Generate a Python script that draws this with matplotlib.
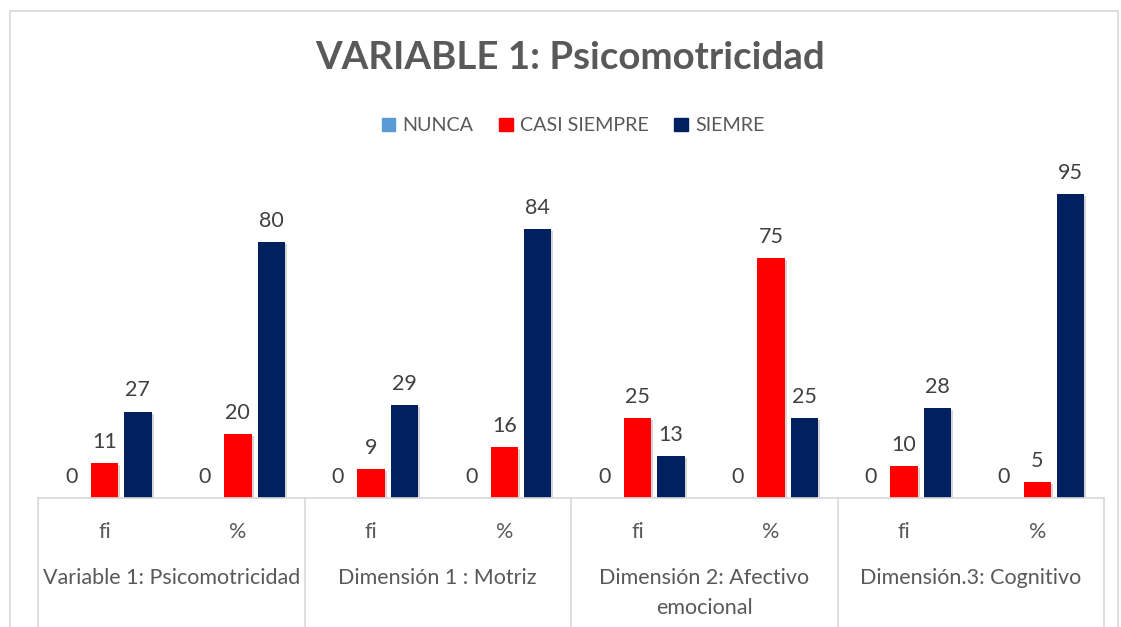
import matplotlib
matplotlib.use("Agg")
import matplotlib.pyplot as plt
import matplotlib.patheffects as pe
from matplotlib.patches import Rectangle
from matplotlib.lines import Line2D
import numpy as np

plt.rcParams['font.family'] = ['Lato', 'DejaVu Sans']

title = "VARIABLE 1: Psicomotricidad"
sub_labels = ["fi", "%", "fi", "%", "fi", "%", "fi", "%"]
groups = ["Variable 1: Psicomotricidad", "Dimensión 1 : Motriz",
          "Dimensión 2: Afectivo\nemocional", "Dimensión.3: Cognitivo"]
series_names = ["NUNCA", "CASI SIEMPRE", "SIEMRE"]
nunca = [0, 0, 0, 0, 0, 0, 0, 0]
casi_siempre = [11, 20, 9, 16, 25, 75, 10, 5]
siempre = [27, 80, 29, 84, 13, 25, 28, 95]
colors = ["#5B9BD5", "#FF0000", "#002060"]

W, H = 1121, 627
fig = plt.figure(figsize=(W / 100, H / 100), dpi=100)
fig.patch.set_facecolor("white")

def fx(px):
    return px / W

def fy(py):
    return 1 - py / H

# outer chart border
fig.patches.append(Rectangle((fx(10), fy(640)), fx(1118) - fx(10), fy(11) - fy(640),
                             transform=fig.transFigure, fill=False,
                             edgecolor="#D9D9D9", linewidth=1.2))

left, right, base, top = 38, 1104, 498, 178
ax = fig.add_axes([fx(left), fy(base), fx(right) - fx(left), fy(top) - fy(base)])
ax.set_xlim(-0.5, 7.5)
ax.set_ylim(0, 100)
ax.axis("off")

x = np.arange(len(sub_labels))
offs = [-0.25, 0.0, 0.25]
bw = 0.205
shadow = [pe.SimplePatchShadow(offset=(1.5, -1.5), shadow_rgbFace="#888888", alpha=0.35), pe.Normal()]
for vals, off, col, name in zip([nunca, casi_siempre, siempre], offs, colors, series_names):
    bars = ax.bar(x + off, vals, width=bw, color=col, label=name, zorder=3)
    for b in bars:
        b.set_path_effects(shadow)
    for xi, v in zip(x, vals):
        ax.annotate(str(v), (xi + off, v), xytext=(0, 8), textcoords="offset points",
                    ha="center", va="bottom", fontsize=15.5, color="#404040")

# table lines
lc = "#D9D9D9"
fig.add_artist(Line2D([fx(left), fx(right)], [fy(base), fy(base)], color=lc, lw=1.2,
                      transform=fig.transFigure))
for px in [38, 304.5, 571, 837.5, 1104]:
    fig.add_artist(Line2D([fx(px), fx(px)], [fy(base), fy(640)], color=lc, lw=1.2,
                          transform=fig.transFigure))

for xi, lab in zip(x, sub_labels):
    ax.text(xi, -(532 - base) / 3.2, lab, ha="center", va="center",
            fontsize=15.5, color="#595959", clip_on=False)
for gi, g in enumerate(groups):
    ax.text(2 * gi + 0.5, -(568 - base) / 3.2, g, ha="center", va="top",
            fontsize=15.5, color="#595959", clip_on=False, linespacing=1.6)

fig.text(0.5 * (fx(317) + fx(824)), fy(58), title, ha="center", va="center",
         fontsize=27.6, fontweight="bold", color="#595959")

handles = [Rectangle((0, 0), 1, 1, color=c) for c in colors]
fig.legend(handles, series_names, loc="center", bbox_to_anchor=(fx(573), fy(126)),
           ncol=3, frameon=False, fontsize=14.2, handlelength=0.7, handleheight=0.7,
           handletextpad=0.35, columnspacing=1.3, labelcolor="#595959")

fig.savefig("out.png", dpi=100, facecolor="white")
